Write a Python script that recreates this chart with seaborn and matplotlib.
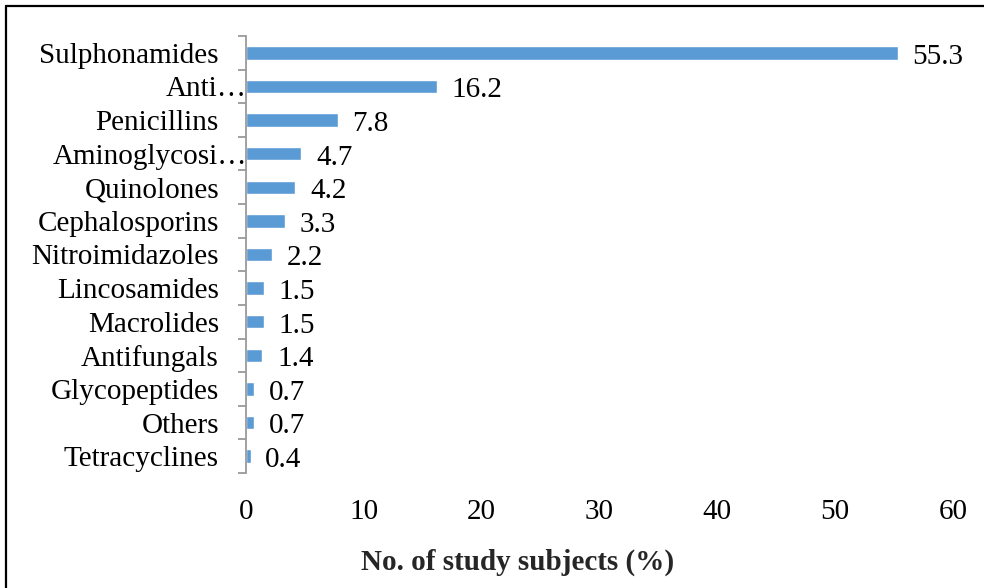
import matplotlib
matplotlib.use("Agg")
import matplotlib.pyplot as plt
import matplotlib.transforms as mtransforms
from matplotlib.lines import Line2D
import seaborn as sns
import pandas as pd
import numpy as np

categories = ["Sulphonamides", "Anti\u2026", "Penicillins", "Aminoglycosi\u2026", "Quinolones",
              "Cephalosporins", "Nitroimidazoles", "Lincosamides", "Macrolides", "Antifungals",
              "Glycopeptides", "Others", "Tetracyclines"]
values = [55.3, 16.2, 7.8, 4.7, 4.2, 3.3, 2.2, 1.5, 1.5, 1.4, 0.7, 0.7, 0.4]
xticks = [0, 10, 20, 30, 40, 50, 60]
xlabel = "No. of study subjects (%)"

sns.set_theme(style="white")
plt.rcParams["font.family"] = ["Liberation Serif", "DejaVu Serif"]

df = pd.DataFrame({"category": categories, "value": values})

fig = plt.figure(figsize=(9.84, 5.88), dpi=100)
ax = fig.add_axes([246/984, 1-473/588, (953-246)/984, (473-36)/588])

sns.barplot(data=df, y="category", x="value", orient="h", color="#5B9BD5",
            saturation=1, width=0.4, ax=ax, errorbar=None)

ax.set_xlim(0, 60)
ax.set_xticks(xticks)
ax.set_xticklabels([str(t) for t in xticks], fontsize=21, color="black")
ax.set_ylim(len(categories) - 0.5, -0.5)

for c in ax.containers:
    texts = ax.bar_label(c, labels=[f"{v:.1f}" for v in values], padding=10.5, fontsize=21, color="black")
    for t in texts:
        t.xyann = (10.5, -2.8)

for s in ["top", "right", "bottom"]:
    ax.spines[s].set_visible(False)
ax.spines["left"].set_color("#9a9a9a")
ax.spines["left"].set_linewidth(1.3)

ax.tick_params(axis="x", length=0, pad=19)
ax.tick_params(axis="y", which="major", length=0, pad=19.5, labelsize=21, labelcolor="black")
ax.set_yticks(np.arange(-0.5, len(categories), 1.0), minor=True)
ax.tick_params(axis="y", which="minor", length=6, width=1.3, color="#9a9a9a", direction="out", left=True)
ax.set_ylabel("")
ax.set_xlabel(xlabel, fontsize=21, fontweight="bold")
ax.xaxis.set_label_coords((518-246)/707, -(549-473)/437)

# Truncated labels extend beyond the others (ellipsis past the right edge)
for lab in ax.get_yticklabels():
    if lab.get_text().endswith("\u2026"):
        off = mtransforms.ScaledTranslation(28/100, 0, fig.dpi_scale_trans)
        lab.set_transform(lab.get_transform() + off)

# figure border (top and left visible)
fig.add_artist(Line2D([6/984, 6/984], [-0.01, 1-6/588], transform=fig.transFigure, color="black", lw=1.6))
fig.add_artist(Line2D([6/984, 1.01], [1-6/588, 1-6/588], transform=fig.transFigure, color="black", lw=1.6))

fig.savefig("out.png", dpi=100)
